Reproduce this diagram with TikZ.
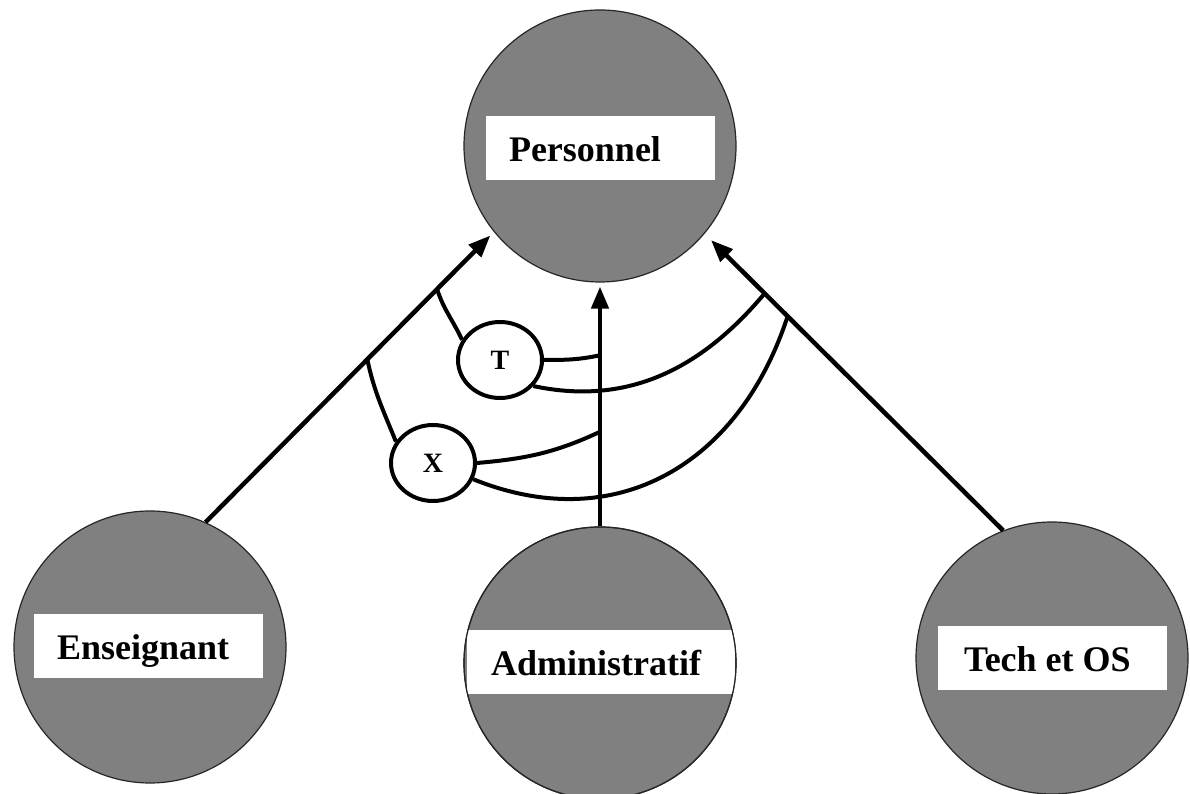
\documentclass[tikz,border=0pt]{standalone}
\usepackage{fontspec}
\setmainfont{Liberation Serif}
\usetikzlibrary{arrows.meta,shapes.geometric}
\definecolor{discgray}{RGB}{128,128,128}
\begin{document}
\begin{tikzpicture}[x=1pt,y=1pt,
  disc/.style={circle, draw=black!85, line width=1.2pt, fill=discgray,
    minimum size=272pt, inner sep=0pt},
  tag/.style={rectangle, fill=white, minimum height=64pt, inner ysep=0pt,
    inner xsep=23pt, text width=183pt, align=flush left, text height=27pt,
    text depth=0pt, font=\bfseries\fontsize{36}{40}\selectfont},
  link/.style={line width=4.5pt, -{Triangle[length=22pt,width=17pt]}},
  arc/.style={line width=4pt},
  rel/.style={ellipse, draw, line width=4pt, fill=white, minimum width=84pt,
    minimum height=76pt, inner sep=0pt, font=\bfseries\fontsize{28}{30}\selectfont}
]
\useasboundingbox (0,0) rectangle (1190,794);
\clip (0,0) rectangle (1190,794);

% the four entity discs
\node[disc] (pers) at (600,648) {};
\node[disc] (ens)  at (150,147) {};
\node[disc] (adm)  at (600,131) {};
\node[disc] (tech) at (1052,136) {};

% white name plates
\node[tag] (persL) at (600.5,646) {Personnel};
\node[tag] (ensL)  at (148.5,148) {Enseignant};
\begin{scope}
  \clip (adm.center) circle[radius=136pt];
  \node[tag, inner xsep=24pt, text width=220pt] (admL) at (601,132) {Administratif};
\end{scope}
\draw[black!85, line width=1.2pt] (adm.center) circle[radius=136pt];
\node[tag, inner xsep=26pt, text width=177pt] (techL) at (1052.5,136) {Tech et OS};

% specialisation arrows
\draw[link, shorten >=5pt] (ens.66.6) --
  coordinate[pos=0.561] (eX) coordinate[pos=0.803] (eT) (pers.219);
\draw[link, shorten >=4pt] (adm.north) --
  coordinate[pos=0.388] (aX) coordinate[pos=0.702] (aT) (pers.south);
\draw[link, shorten >=9pt] (tech.111.6) --
  coordinate[pos=0.722] (tX) coordinate[pos=0.799] (tT) (pers.320);

% constraint markers
\node[rel] (T) at (500,434) {T};
\node[rel] (X) at (433,331) {X};

% arcs tying each constraint to the three arrows
\draw[arc] (T.152) to[out=115,in=-72] (eT);
\draw[arc] (T.east) to[out=0,in=192] (aT);
\draw[arc] (T.322) to[out=-12,in=230] (tT);
\draw[arc] (X.150) to[out=112,in=-78] (eX);
\draw[arc] (X.east) to[out=5,in=205] (aX);
\draw[arc] (X.338) to[out=-22,in=252,looseness=1.12] (tX);
\end{tikzpicture}
\end{document}
